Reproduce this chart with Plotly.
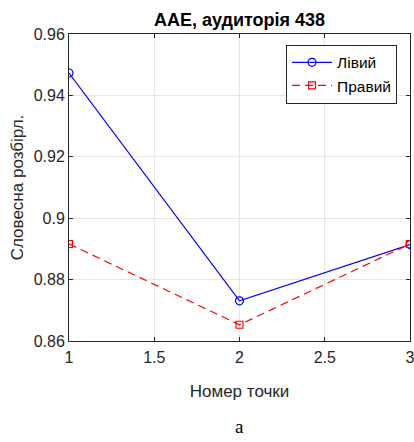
import plotly.graph_objects as go

points = [1, 2, 3]
left_vals = [0.9473, 0.8731, 0.8914]
right_vals = [0.8916, 0.8653, 0.8916]
series_names = ["Лівий", "Правий"]
x_ticks = [1, 1.5, 2, 2.5, 3]
x_tick_labels = ["1", "1.5", "2", "2.5", "3"]
y_ticks = [0.86, 0.88, 0.9, 0.92, 0.94, 0.96]
y_tick_labels = ["0.86", "0.88", "0.9", "0.92", "0.94", "0.96"]

FONT = "Liberation Sans, Arial"

fig = go.Figure()
fig.add_trace(go.Scatter(
    x=points, y=left_vals, name=series_names[0], mode="lines+markers",
    line=dict(color="#0000FF", width=1.2),
    marker=dict(symbol="circle-open", size=8, color="#0000FF", line=dict(width=1.2)),
))
fig.add_trace(go.Scatter(
    x=points, y=right_vals, name=series_names[1], mode="lines+markers",
    line=dict(color="#FF0000", width=1.2, dash="8px,5px"),
    marker=dict(symbol="square-open", size=7, color="#FF0000", line=dict(width=1.2)),
))

axis_common = dict(
    showline=True, linecolor="#262626", linewidth=1, mirror="ticks",
    ticks="inside", ticklen=4, tickcolor="#262626",
    showgrid=True, gridcolor="#E6E6E6", gridwidth=1,
    zeroline=False, automargin=False,
    tickfont=dict(family=FONT, size=16, color="#262626"),
)

fig.update_layout(
    width=414, height=442,
    margin=dict(l=69, r=4, t=34, b=101),
    paper_bgcolor="white", plot_bgcolor="white",
    title=dict(text="<b>AAE, аудиторія 438</b>", x=0.5, xanchor="center",
               xref="paper", y=1 - 20 / 442, yanchor="middle",
               font=dict(family=FONT, size=18, color="black")),
    xaxis=dict(range=[1, 3], tickvals=x_ticks, ticktext=x_tick_labels,
               ticklabeloverflow="allow", ticklabelstandoff=2,
               title=dict(text="Номер точки", standoff=19,
                          font=dict(family=FONT, size=17, color="#262626")),
               **axis_common),
    yaxis=dict(range=[0.86, 0.96], tickvals=y_ticks, ticktext=y_tick_labels,
               title=dict(text="Словесна розбірл.", standoff=5,
                          font=dict(family=FONT, size=17, color="#262626")),
               **axis_common),
    showlegend=True,
    legend=dict(x=0.962, y=0.965, xanchor="right", yanchor="top",
                bgcolor="white", bordercolor="#262626", borderwidth=1,
                font=dict(family=FONT, size=15.5, color="black"),
                tracegroupgap=0, itemwidth=40),
)

fig.add_annotation(text="а", xref="paper", yref="paper", x=0.5, y=-0.28, yanchor="middle",
                   showarrow=False, font=dict(family="Liberation Serif, Times New Roman", size=19, color="black"))

fig.write_html("out.html")
